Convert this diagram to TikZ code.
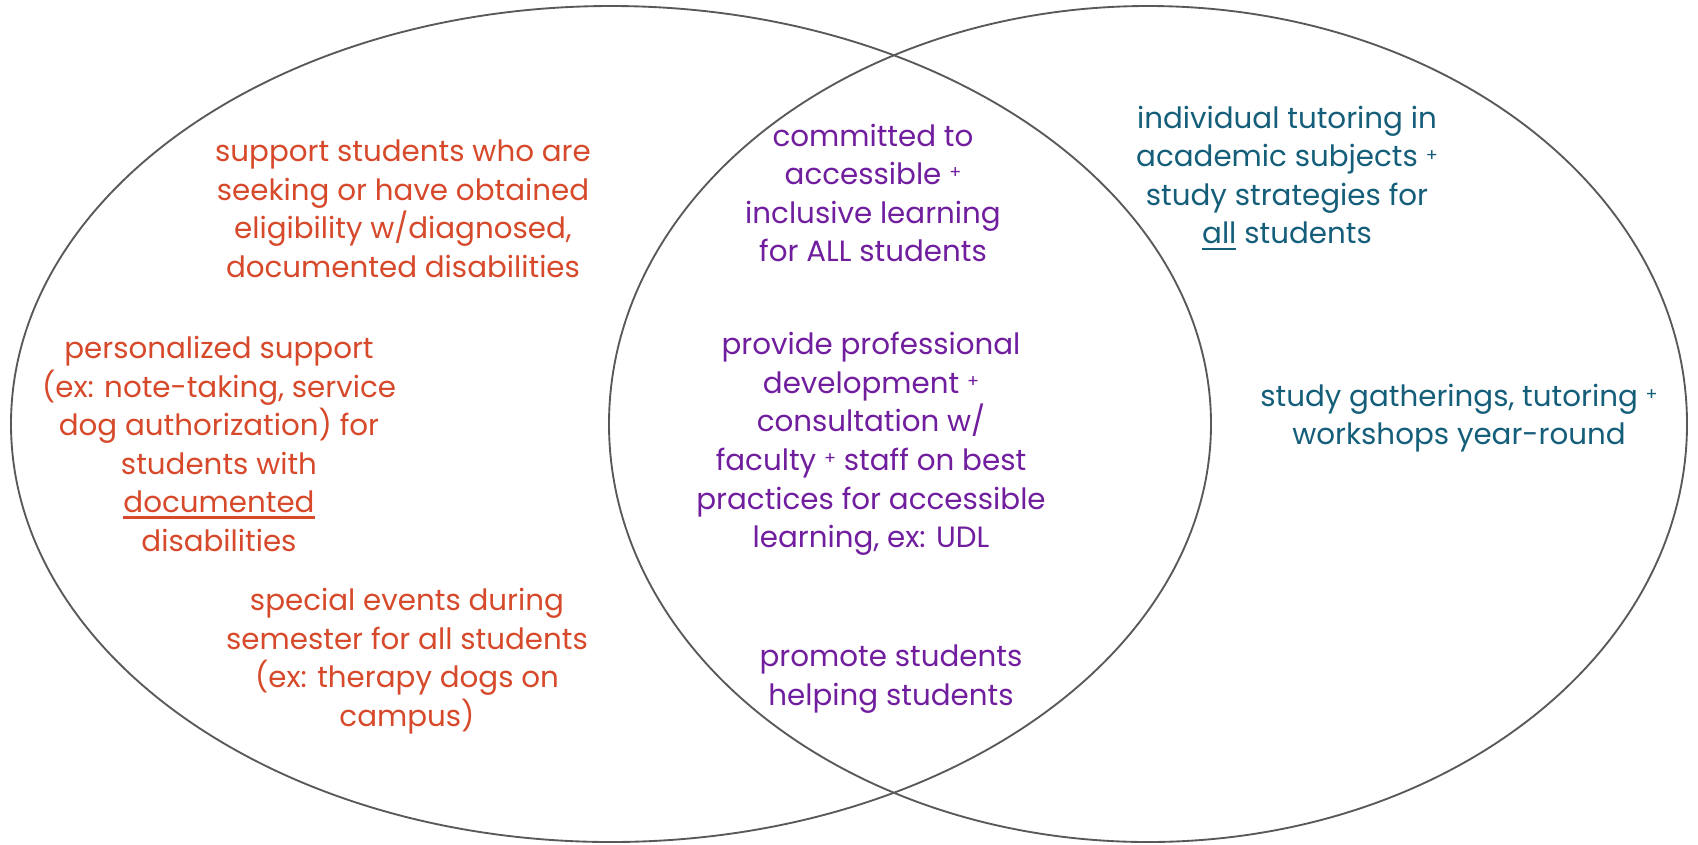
\documentclass[tikz,border=0pt]{standalone}
\usepackage{fontspec}
\setmainfont{Poppins}
\usetikzlibrary{shapes.geometric}
\definecolor{vennline}{HTML}{595959}
\definecolor{disabred}{HTML}{D6492A}
\definecolor{bothpurple}{HTML}{701E9E}
\definecolor{tutorteal}{HTML}{155E7A}
\newcommand{\pl}{\raisebox{0.2em}{\scalebox{0.6}{+}}}
\newcommand{\undl}[1]{\setbox0\hbox{#1}\rlap{\rule[-4.5pt]{\wd0}{1.8pt}}\box0\relax}
\tikzset{
    circ/.style = {
        ellipse,
        draw=vennline,
        line width=1.4pt,
        inner sep=0pt,
        outer sep=0pt,
        minimum height=627pt
    },
    item/.style = {
        align=center,
        inner sep=0pt,
        font=\fontsize{22}{28.9}\selectfont
    },
    redtext/.style = {item, text=disabred},
    purptext/.style = {item, text=bothpurple},
    tealtext/.style = {item, text=tutorteal}
}
\begin{document}
\begin{tikzpicture}[x=0.75pt, y=-0.75pt]
\useasboundingbox (0,0) rectangle (1698,844);

% the two sets
\node [circ, minimum width=900pt] (disab) at (611,424) {};
\node [circ, minimum width=808.5pt] (tutor) at (1148,424) {};

% left only
\node [redtext] (sup) at (403,209) {support students who are\\seeking or have obtained\\eligibility w/diagnosed,\\documented disabilities};
\node [redtext] (pers) at (219,444) {personalized support\\(ex: note-taking, service\\dog authorization) for\\students with\\\undl{documented}\\disabilities};
\node [redtext] (spec) at (407,661) {special events during\\semester for all students\\(ex: therapy dogs on\\campus)};

% overlap
\node [purptext] (comm) at (873,193) {committed to\\accessible \pl\\inclusive learning\\for ALL students};
\node [purptext] (prof) at (871,444) {provide professional\\development \pl\\consultation w/\\faculty \pl{} staff on best\\practices for accessible\\learning, ex: UDL};
\node [purptext] (prom) at (891,679) {promote students\\helping students};

% right only
\node [tealtext] (indiv) at (1287,178) {individual tutoring in\\academic subjects \pl\\study strategies for\\\undl{all} students};
\node [tealtext] (gath) at (1459,418) {study gatherings, tutoring \pl\\workshops year-round};

\end{tikzpicture}
\end{document}
